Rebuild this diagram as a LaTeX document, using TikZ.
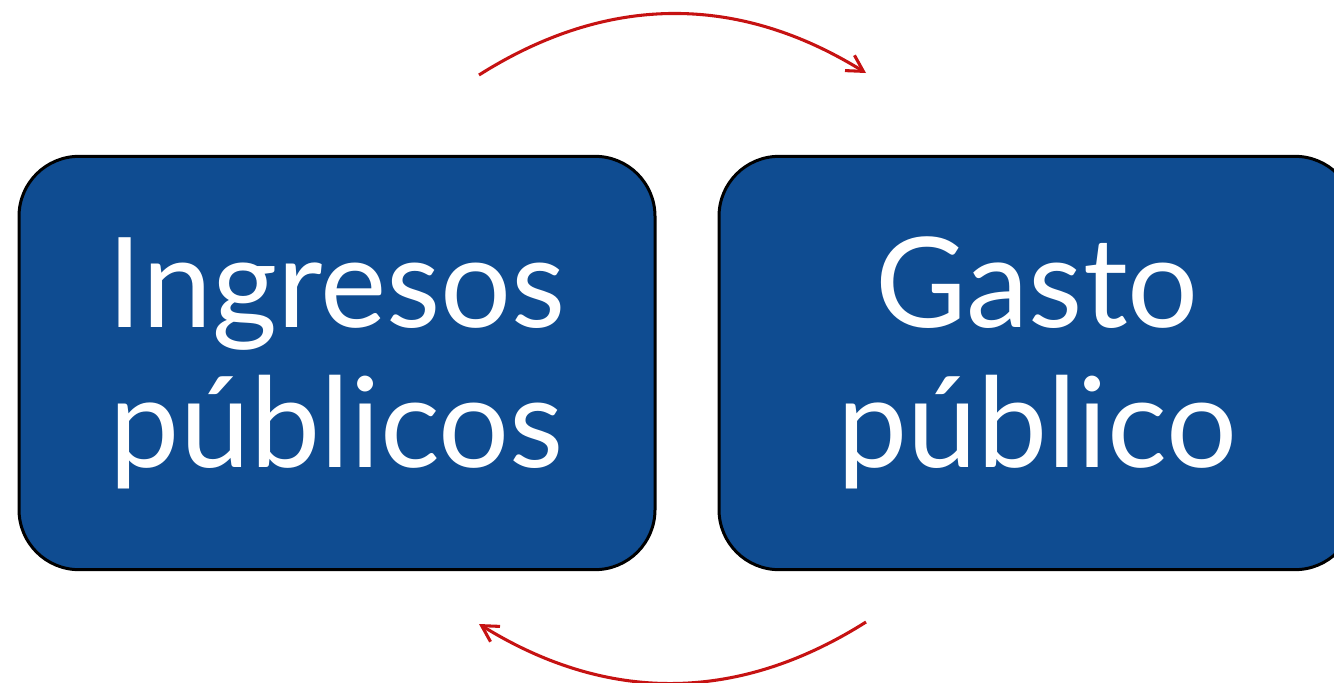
\documentclass[tikz,border=0pt]{standalone}
\usepackage{fontspec}
\setmainfont{Lato}
\usetikzlibrary{positioning,arrows.meta}
\definecolor{boxblue}{RGB}{15,76,145}
\definecolor{arcred}{RGB}{198,18,18}
\tikzset{
  bloque/.style={draw=black, line width=2.25pt, fill=boxblue, rounded corners=45pt,
    minimum width=477pt, minimum height=310pt, text=white, align=center,
    font=\fontsize{94}{105}\selectfont, inner sep=0pt},
  ciclo/.style={draw=arcred, line width=2.3pt, -{Straight Barb[length=12pt,width=13.5pt,line width=2.3pt]}}
}
\begin{document}
\begin{tikzpicture}[x=0.75pt,y=0.75pt,yscale=-1,xscale=1]
\clip (0,0) rectangle (1334,682);

% Boxes
\node [bloque] (ingresos) at (337,363) {\raisebox{-3pt}{Ingresos}\\\raisebox{-3pt}{públicos}};
\node [bloque, right=45.75pt of ingresos] (gasto) {\raisebox{-3pt}{Gasto}\\\raisebox{-3pt}{público}};

% Arc end points
\coordinate (topA) at (479,75);
\coordinate (topB) at (866,73);
\coordinate (botA) at (866,622);
\coordinate (botB) at (479,624);

% Arrows
\draw [ciclo] (topA) to [bend right=32] (topB);
\draw [ciclo] (botA) to [bend right=32] (botB);

\end{tikzpicture}
\end{document}
